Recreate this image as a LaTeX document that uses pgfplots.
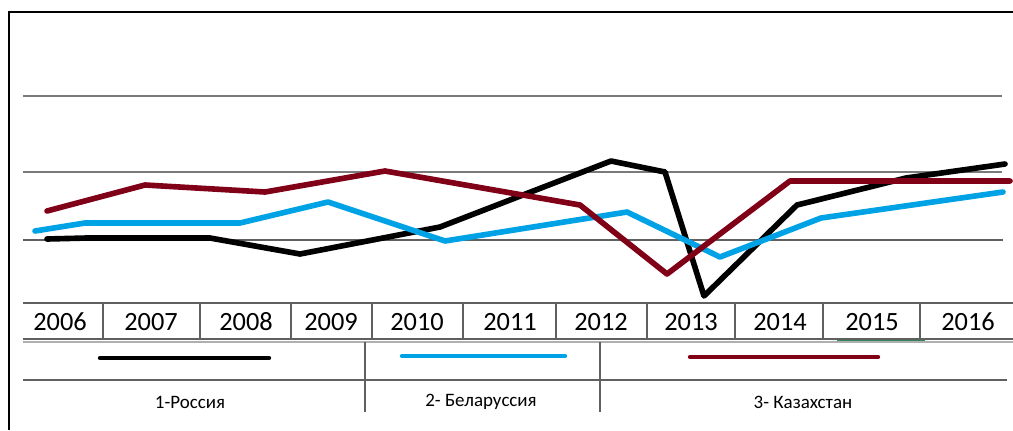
\documentclass[border=0pt]{standalone}
\usepackage{pgfplots}
\pgfplotsset{compat=1.18}
\usepackage{fontspec}
\setmainfont{Carlito}
\definecolor{rus}{HTML}{000000}
\definecolor{bel}{HTML}{00A2E6}
\definecolor{kaz}{HTML}{800018}
\definecolor{gridc}{HTML}{7A7A7A}
\definecolor{tabc}{HTML}{606060}
\definecolor{tabl}{HTML}{B0B0B0}
\definecolor{grn}{HTML}{2E8B57}
\begin{document}
\begin{tikzpicture}
\begin{axis}[at={(0,0)}, anchor=south west, scale only axis,
  width=10.13cm, height=4.30cm,
  xmin=0, xmax=1013, ymin=-127, ymax=303,
  hide axis, clip=false]
% frame
\draw[black, line width=0.6pt] (axis cs:9,-127) -- (axis cs:9,291) -- (axis cs:1013,291);
% grid lines
\draw[gridc, line width=0.3pt] (axis cs:23,207) -- (axis cs:1002,207);
\draw[gridc, line width=0.3pt] (axis cs:23,131) -- (axis cs:1002,131);
\draw[tabc, line width=0.3pt] (axis cs:23,63) -- (axis cs:1003,63);
% year row
\draw[tabc, line width=0.35pt] (axis cs:23,0) -- (axis cs:1013,0);
\draw[tabc, line width=0.45pt] (axis cs:23,-36) -- (axis cs:1013,-36);
\draw[tabl, line width=0.3pt] (axis cs:23,-39) -- (axis cs:1013,-39);
\draw[grn, line width=0.4pt] (axis cs:837,-37.5) -- (axis cs:925,-37.5);
\pgfplotsinvokeforeach{103,200,291,372,463,556,647,735,823,920}{
  \draw[tabc, line width=0.35pt] (axis cs:#1,0) -- (axis cs:#1,-36);
}
% legend rows
\draw[tabc, line width=0.35pt] (axis cs:23,-77) -- (axis cs:1007,-77);
\draw[tabc, line width=0.35pt] (axis cs:365,-39) -- (axis cs:365,-109);
\draw[tabc, line width=0.35pt] (axis cs:600,-39) -- (axis cs:600,-109);
% year labels
\node[font=\fontsize{7.5}{8}\selectfont, inner sep=0pt] at (axis cs:60,-19) {2006};
\node[font=\fontsize{7.5}{8}\selectfont, inner sep=0pt] at (axis cs:151,-19) {2007};
\node[font=\fontsize{7.5}{8}\selectfont, inner sep=0pt] at (axis cs:246,-19) {2008};
\node[font=\fontsize{7.5}{8}\selectfont, inner sep=0pt] at (axis cs:331,-19) {2009};
\node[font=\fontsize{7.5}{8}\selectfont, inner sep=0pt] at (axis cs:417,-19) {2010};
\node[font=\fontsize{7.5}{8}\selectfont, inner sep=0pt] at (axis cs:510,-19) {2011};
\node[font=\fontsize{7.5}{8}\selectfont, inner sep=0pt] at (axis cs:601,-19) {2012};
\node[font=\fontsize{7.5}{8}\selectfont, inner sep=0pt] at (axis cs:691,-19) {2013};
\node[font=\fontsize{7.5}{8}\selectfont, inner sep=0pt] at (axis cs:780,-19) {2014};
\node[font=\fontsize{7.5}{8}\selectfont, inner sep=0pt] at (axis cs:872,-19) {2015};
\node[font=\fontsize{7.5}{8}\selectfont, inner sep=0pt] at (axis cs:968,-19) {2016};
% legend labels
\node[font=\fontsize{5.4}{6}\selectfont, inner sep=0pt] at (axis cs:190,-99) {1-Россия};
\node[font=\fontsize{5.4}{6}\selectfont, inner sep=0pt] at (axis cs:481,-99) {2- Беларуссия};
\node[font=\fontsize{5.4}{6}\selectfont, inner sep=0pt] at (axis cs:803,-99) {3- Казахстан};
% legend lines
\draw[rus, line width=1.25pt, line cap=round] (axis cs:100,-55) -- (axis cs:269,-55);
\draw[bel, line width=1.25pt, line cap=round] (axis cs:402,-53) -- (axis cs:565,-53);
\draw[kaz, line width=1.25pt, line cap=round] (axis cs:690,-54) -- (axis cs:878,-54);
% data
\addplot[rus, line width=1.6pt, line cap=round, line join=round, mark=none] coordinates {
(47,64) (87,65) (210,65) (300,49) (440,76) (611,142) (665,131) (704,7) (797,98) (906,125) (1005,139)};
\addplot[bel, line width=1.6pt, line cap=round, line join=round, mark=none] coordinates {
(35,72) (85,80) (240,80) (328,101) (445,62) (627,91) (720,46) (821,85) (1003,111)};
\addplot[kaz, line width=1.6pt, line cap=round, line join=round, mark=none] coordinates {
(47,92) (145,118) (265,111) (385,132) (580,98) (667,29) (790,122) (1010,122)};
\end{axis}
\pgfresetboundingbox
\useasboundingbox (0,0) rectangle (10.13cm,4.3cm);
\end{tikzpicture}
\end{document}
